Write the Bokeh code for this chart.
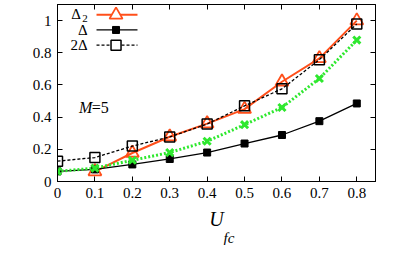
from bokeh.plotting import figure
from bokeh.models import (Range1d, FixedTicker, LinearAxis, CustomJSTickFormatter, Label, Title)
from bokeh.embed import file_html
from bokeh.resources import INLINE

# ---- data ----
u_all = [0.0, 0.1, 0.2, 0.3, 0.4, 0.5, 0.6, 0.7, 0.8]
u_d2 = [0.1, 0.2, 0.3, 0.4, 0.5, 0.6, 0.7, 0.8]
delta2 = [0.062, 0.177, 0.278, 0.36, 0.45, 0.62, 0.765, 1.0]
delta = [0.063, 0.075, 0.106, 0.14, 0.18, 0.236, 0.289, 0.375, 0.485]
two_delta = [0.126, 0.149, 0.22, 0.277, 0.357, 0.47, 0.576, 0.757, 0.979]
green = [0.063, 0.083, 0.132, 0.18, 0.25, 0.353, 0.46, 0.64, 0.879]
x_ticks = [0, 0.1, 0.2, 0.3, 0.4, 0.5, 0.6, 0.7, 0.8]
y_ticks = [0, 0.2, 0.4, 0.6, 0.8, 1.0]

ORANGE = "#ff4f1a"
GREEN = "#2ee82e"
FONT = "Liberation Serif"

X0, X1 = 0.0, 0.85
Y0, Y1 = 0.0, 1.1

# reference geometry, used only to place annotation decorations in data units
def px2x(px):
    return X0 + (px - 57) / 326 * (X1 - X0)

def px2y(py):
    return Y0 + (199 - py) / 194.7 * (Y1 - Y0)

p = figure(width=379, height=245, output_backend="svg", toolbar_location=None,
           x_range=Range1d(X0, X1), y_range=Range1d(Y0, Y1),
           min_border_left=57, min_border_right=4, min_border_top=4, min_border_bottom=64,
           background_fill_color="white", border_fill_color="white")
p.grid.visible = False
p.outline_line_color = "black"
p.outline_line_width = 1

fmt = CustomJSTickFormatter(code="return tick.toFixed(1).replace(/\\.0$/, '');")

def style_axis(ax, ticks, show_labels=True):
    ax.ticker = FixedTicker(ticks=ticks)
    ax.formatter = fmt
    ax.major_tick_in = 5
    ax.major_tick_out = 0
    ax.minor_tick_in = 0
    ax.minor_tick_out = 0
    ax.axis_line_color = "black"
    ax.major_tick_line_color = "black"
    ax.major_label_text_font = FONT
    ax.major_label_text_font_size = "15px"
    ax.major_label_text_color = "black"
    ax.major_label_standoff = 7
    if not show_labels:
        ax.major_label_text_alpha = 0
        ax.major_label_text_font_size = "1px"
        ax.major_label_standoff = 0

style_axis(p.xaxis[0], x_ticks)
style_axis(p.yaxis[0], y_ticks)
p.yaxis[0].major_label_standoff = 6
p.xaxis[0].major_label_standoff = 6
p.xaxis[0].axis_label = "U"
p.xaxis[0].axis_label_text_font = FONT
p.xaxis[0].axis_label_text_font_size = "20px"
p.xaxis[0].axis_label_text_font_style = "italic"
p.xaxis[0].axis_label_text_color = "black"
p.xaxis[0].axis_label_standoff = 7

top = LinearAxis()
style_axis(top, x_ticks, show_labels=False)
right = LinearAxis()
style_axis(right, y_ticks, show_labels=False)
p.add_layout(top, "above")
p.add_layout(right, "right")

sub = Title(text="fc", align="left", offset=166, vertical_align="top", text_font=FONT,
            text_font_size="15px", text_font_style="italic", text_color="black", standoff=-6)
p.add_layout(sub, "below")

# ---- series ----
p.line(u_d2, delta2, line_color=ORANGE, line_width=2)
p.scatter(u_d2, delta2, marker="triangle", size=13, fill_color=None,
          line_color=ORANGE, line_width=1.8)

p.line(u_all, two_delta, line_color="black", line_width=1.3, line_dash="3 2")
p.scatter(u_all, two_delta, marker="square", size=10, fill_color=None,
          line_color="black", line_width=1.5)

p.line(u_all, delta, line_color="black", line_width=1.3)
p.scatter(u_all, delta, marker="square", size=7, fill_color="black", line_color="black")

p.line(u_all, green, line_color=GREEN, line_width=3, line_dash="2 2")
p.scatter(u_all, green, marker="x", size=10, line_color=GREEN, line_width=3)

# ---- legend (drawn manually, label left of sample) ----
lx0, lx1, lxm = px2x(97), px2x(139), px2x(117)
rows = [px2y(15.7), px2y(32.3), px2y(49)]
p.line([lx0, lx1], [rows[0], rows[0]], line_color=ORANGE, line_width=2)
p.scatter([lxm], [rows[0]], marker="triangle", size=13, fill_color="white",
          line_color=ORANGE, line_width=1.8)
p.line([lx0, lx1], [rows[1], rows[1]], line_color="black", line_width=1.3)
p.scatter([lxm], [rows[1]], marker="square", size=7, fill_color="black", line_color="black")
p.line([lx0, lx1], [rows[2], rows[2]], line_color="black", line_width=1.3, line_dash="3 2")
p.scatter([lxm], [rows[2]], marker="square", size=10, fill_color="white",
          line_color="black", line_width=1.5)

def lab(text, xpx, ypx, size="15px", style="normal", align="right", base="middle"):
    p.add_layout(Label(x=px2x(xpx), y=px2y(ypx), text=text, text_font=FONT,
                       text_font_size=size, text_font_style=style, text_color="black",
                       text_align=align, text_baseline=base))

lab("Δ", 81, 14.5)
lab("2", 88, 20, size="11px")
lab("Δ", 88, 32.3)
lab("2Δ", 88, 49)

# M=5 annotation
lab("M", 79, 118, size="16px", style="italic", align="left")
lab("=5", 92, 118, size="16px", align="left")

open("out.html", "w").write(file_html(p, INLINE))
